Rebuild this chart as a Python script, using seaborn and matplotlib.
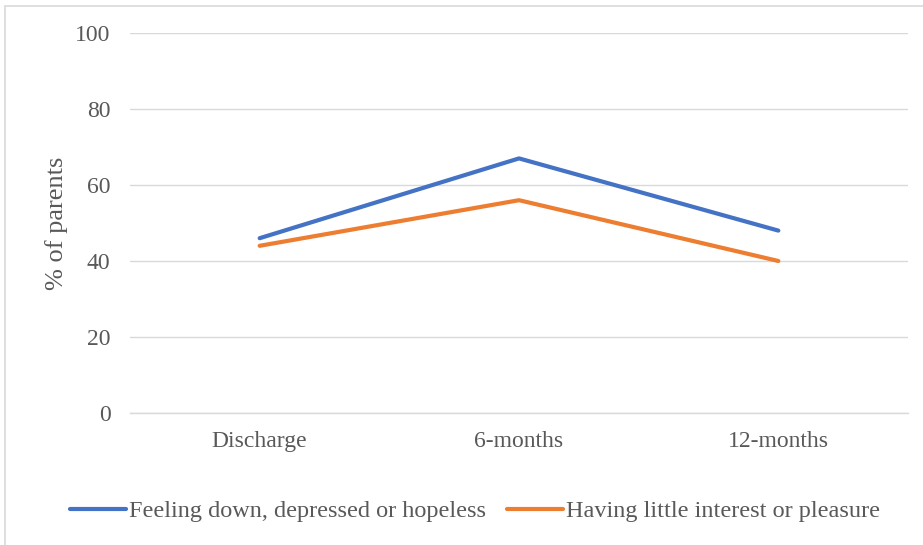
import matplotlib
matplotlib.use("Agg")
import matplotlib.pyplot as plt
import seaborn as sns
import pandas as pd
from matplotlib.patches import Rectangle

categories = ["Discharge", "6-months", "12-months"]
feeling_down = [46, 67, 48]
little_interest = [44, 56, 40]
series_names = ["Feeling down, depressed or hopeless", "Having little interest or pleasure"]
y_ticks = [0, 20, 40, 60, 80, 100]

df = pd.DataFrame({
    "time": categories * 2,
    "value": feeling_down + little_interest,
    "series": [series_names[0]] * 3 + [series_names[1]] * 3,
})

sns.set_theme(style="white")
plt.rcParams["font.family"] = ["Liberation Serif", "DejaVu Serif"]

fig = plt.figure(figsize=(9.23, 5.45), dpi=100)
ax = fig.add_axes([130 / 923, 1 - 413 / 545, 778 / 923, 380 / 545])

sns.lineplot(data=df, x="time", y="value", hue="series", sort=False,
             palette=["#4472C4", "#ED7D31"], linewidth=3.0, ax=ax, legend=True)

ax.set_xlim(-0.5, 2.5)
ax.set_ylim(0, 100)
ax.set_yticks(y_ticks)
ax.set_yticklabels([str(t) for t in y_ticks])
ax.grid(axis="y", color="#D9D9D9", linewidth=1.0)
ax.grid(axis="x", visible=False)
for name, s in ax.spines.items():
    s.set_visible(False)
ax.spines["bottom"].set_visible(True)
ax.spines["bottom"].set_color("#D9D9D9")
ax.spines["bottom"].set_linewidth(1.0)
ax.tick_params(axis="both", length=0, colors="#595959", labelsize=17)
ax.tick_params(axis="y", pad=14)
ax.tick_params(axis="x", pad=13)
ax.set_xlabel("")
ax.set_ylabel("% of parents", fontsize=19, color="#595959")
ax.yaxis.set_label_coords((68 - 130) / 778, 0.5)

leg = ax.legend(loc="center", bbox_to_anchor=((475 - 130) / 778, (413 - 511) / 380), ncol=2,
                frameon=False, fontsize=17.5, handlelength=2.3, handletextpad=0.1,
                columnspacing=0.9, borderpad=0, borderaxespad=0)
for t in leg.get_texts():
    t.set_color("#595959")
for h in leg.legend_handles:
    h.set_linewidth(3.0)

fig.patches.append(Rectangle((5 / 923, -0.1), 1.2, 1 - 6 / 545 + 0.1, transform=fig.transFigure,
                             fill=False, edgecolor="#D9D9D9", linewidth=1.2))

fig.savefig("out.png", dpi=100)
